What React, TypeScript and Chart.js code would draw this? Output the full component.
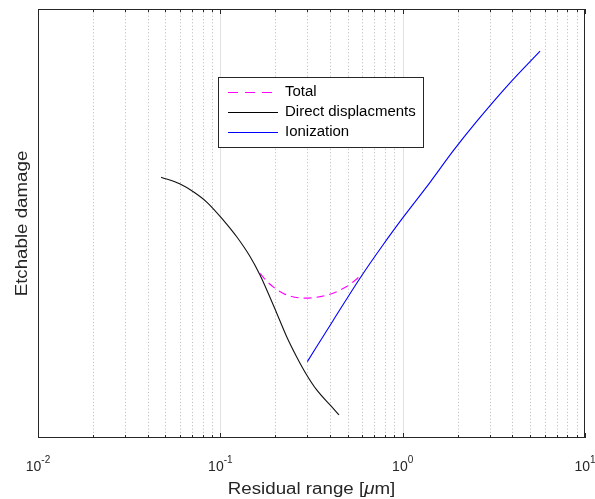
import React, { useEffect, useRef } from "react";
import { Chart, registerables } from "chart.js";
Chart.register(...registerables);

// Direct displacements (black)
const dispX = [0.0473, 0.0602, 0.0711, 0.0842, 0.1038, 0.123, 0.1455, 0.165, 0.1833, 0.2039, 0.2312, 0.2623, 0.2977, 0.3378, 0.3996, 0.4477];
const dispY = [60.8, 59.2, 57.4, 55.0, 50.8, 46.9, 42.3, 38.0, 33.7, 29.1, 23.6, 18.9, 14.7, 11.2, 7.7, 5.4];
// Ionization (blue)
const ionX = [0.3, 0.4165, 0.5834, 0.783, 1.008, 1.413, 1.896, 2.547, 3.878, 5.67];
const ionY = [17.8, 27.46, 37.25, 45.1, 51.47, 59.6, 66.97, 73.8, 82.8, 90.2];
// Total (magenta dashed)
const totalX = [0.165, 0.1833, 0.2215, 0.2913, 0.3832, 0.4932, 0.596];
const totalY = [38.4, 36.2, 33.7, 32.6, 33.3, 35.3, 38.0];

const xTickExps = [-2, -1, 0, 1];
const minorMults = [2, 3, 4, 5, 6, 7, 8, 9];
const legendLabels = ["Total", "Direct displacments", "Ionization"];
const yTitle = "Etchable damage";
const xTitleParts = ["Residual range [", "\u03BC", "m]"];

const FONT = '"Liberation Sans", Arial, Helvetica, sans-serif';
const WIDE = 1.17;

const toPts = (xs: number[], ys: number[]) => xs.map((x, i) => ({ x, y: ys[i] }));

const matlabPlugin = {
  id: "matlabDecor",
  beforeDatasetsDraw(chart: any) {
    const ctx = chart.ctx;
    const ca = chart.chartArea;
    const xs = chart.scales.x;
    ctx.save();
    for (let e = xTickExps[0]; e < xTickExps[xTickExps.length - 1]; e++) {
      const d = Math.pow(10, e);
      if (e > xTickExps[0]) {
        const px = Math.round(xs.getPixelForValue(d)) + 0.5;
        ctx.setLineDash([]);
        ctx.strokeStyle = "#e2e2e2";
        ctx.lineWidth = 1;
        ctx.beginPath();
        ctx.moveTo(px, ca.top);
        ctx.lineTo(px, ca.bottom);
        ctx.stroke();
      }
      for (const m of minorMults) {
        const px = Math.round(xs.getPixelForValue(d * m)) + 0.5;
        ctx.setLineDash([1, 2.33]);
        ctx.strokeStyle = "#b8b8b8";
        ctx.lineWidth = 1;
        ctx.beginPath();
        ctx.moveTo(px, ca.top);
        ctx.lineTo(px, ca.bottom);
        ctx.stroke();
      }
    }
    ctx.restore();
  },
  afterDraw(chart: any) {
    const ctx = chart.ctx;
    const ca = chart.chartArea;
    const xs = chart.scales.x;
    ctx.save();
    ctx.setLineDash([]);
    // box
    ctx.strokeStyle = "#262626";
    ctx.lineWidth = 1;
    ctx.strokeRect(ca.left + 0.5, ca.top + 0.5, ca.right - ca.left - 1, ca.bottom - ca.top - 1);
    // ticks top & bottom
    const tick = (v: number, len: number) => {
      const px = Math.round(xs.getPixelForValue(v)) + 0.5;
      ctx.beginPath();
      ctx.moveTo(px, ca.bottom);
      ctx.lineTo(px, ca.bottom - len);
      ctx.moveTo(px, ca.top);
      ctx.lineTo(px, ca.top + len);
      ctx.stroke();
    };
    for (let e = xTickExps[0]; e <= xTickExps[xTickExps.length - 1]; e++) {
      const d = Math.pow(10, e);
      tick(d, 5);
      if (e < xTickExps[xTickExps.length - 1]) for (const m of minorMults) tick(d * m, 3);
    }
    // tick labels with superscripts
    ctx.fillStyle = "#262626";
    ctx.textBaseline = "alphabetic";
    ctx.textAlign = "left";
    for (const e of xTickExps) {
      const px = xs.getPixelForValue(Math.pow(10, e));
      ctx.font = `14px ${FONT}`;
      const wb = ctx.measureText("10").width;
      ctx.font = `10px ${FONT}`;
      const es = String(e);
      const we = ctx.measureText(es).width;
      const x0 = px - (wb + we) / 2;
      ctx.font = `14px ${FONT}`;
      ctx.fillText("10", x0, 471);
      ctx.font = `10px ${FONT}`;
      ctx.fillText(es, x0 + wb, 463);
    }
    // x title (horizontally widened like the reference font)
    const cx = (ca.left + ca.right) / 2;
    const fontsX = [`16px ${FONT}`, `italic 16px ${FONT}`, `16px ${FONT}`];
    let tw = 0;
    const widths = xTitleParts.map((p, i) => {
      ctx.font = fontsX[i];
      const w = ctx.measureText(p).width;
      tw += w;
      return w;
    });
    ctx.save();
    ctx.translate(cx, 494);
    ctx.scale(WIDE, 1);
    let xx = -tw / 2;
    xTitleParts.forEach((p, i) => {
      ctx.font = fontsX[i];
      ctx.fillText(p, xx, 0);
      xx += widths[i];
    });
    ctx.restore();
    // y title
    ctx.save();
    ctx.translate(27, (ca.top + ca.bottom) / 2);
    ctx.rotate(-Math.PI / 2);
    ctx.scale(WIDE, 1);
    ctx.font = `16px ${FONT}`;
    ctx.textAlign = "center";
    ctx.fillText(yTitle, 0, 0);
    ctx.restore();
    // legend
    const lx = 218.5, ly = 77.5, lw = 205, lh = 70;
    ctx.fillStyle = "#ffffff";
    ctx.fillRect(lx, ly, lw, lh);
    ctx.strokeStyle = "#262626";
    ctx.strokeRect(lx, ly, lw, lh);
    const styles = [
      { c: "#ff00ff", dash: [10, 7] },
      { c: "#000000", dash: [] as number[] },
      { c: "#0000ff", dash: [] as number[] },
    ];
    const rowsY = [92.5, 112.5, 132.5];
    legendLabels.forEach((lab, i) => {
      ctx.strokeStyle = styles[i].c;
      ctx.lineWidth = 1.1;
      ctx.setLineDash(styles[i].dash);
      ctx.beginPath();
      ctx.moveTo(228, rowsY[i]);
      ctx.lineTo(278, rowsY[i]);
      ctx.stroke();
      ctx.setLineDash([]);
      ctx.save();
      ctx.translate(285, rowsY[i]);
      ctx.scale(1.07, 1);
      ctx.fillStyle = "#000000";
      ctx.font = `14px ${FONT}`;
      ctx.textBaseline = "middle";
      ctx.fillText(lab, 0, 0);
      ctx.restore();
    });
    ctx.restore();
  },
};

export default function App() {
  const ref = useRef<HTMLCanvasElement | null>(null);
  useEffect(() => {
    document.body.style.margin = "0";
    const canvas = ref.current;
    if (!canvas) return;
    const chart = new Chart(canvas, {
      type: "scatter",
      data: {
        datasets: [
          {
            label: legendLabels[1],
            data: toPts(dispX, dispY),
            showLine: true,
            borderColor: "#111111",
            borderWidth: 1.1,
            pointRadius: 0,
            cubicInterpolationMode: "monotone",
          },
          {
            label: legendLabels[2],
            data: toPts(ionX, ionY),
            showLine: true,
            borderColor: "#0000ff",
            borderWidth: 1.1,
            pointRadius: 0,
            cubicInterpolationMode: "monotone",
          },
          {
            label: legendLabels[0],
            data: toPts(totalX, totalY),
            showLine: true,
            borderColor: "#ff00ff",
            borderWidth: 1.1,
            borderDash: [8, 5],
            pointRadius: 0,
            cubicInterpolationMode: "monotone",
          },
        ],
      },
      options: {
        responsive: false,
        animation: false,
        layout: { padding: { left: 38, right: 10, top: 9, bottom: 61 } },
        plugins: { legend: { display: false }, tooltip: { enabled: false } },
        scales: {
          x: { type: "logarithmic", min: 0.01, max: 10, display: false },
          y: { type: "linear", min: 0, max: 100, display: false },
        },
      },
      plugins: [matlabPlugin],
    } as any);
    return () => chart.destroy();
  }, []);
  return (
    <div style={{ width: 595, height: 499, background: "#ffffff" }}>
      <canvas ref={ref} width={595} height={499} style={{ display: "block" }} />
    </div>
  );
}
